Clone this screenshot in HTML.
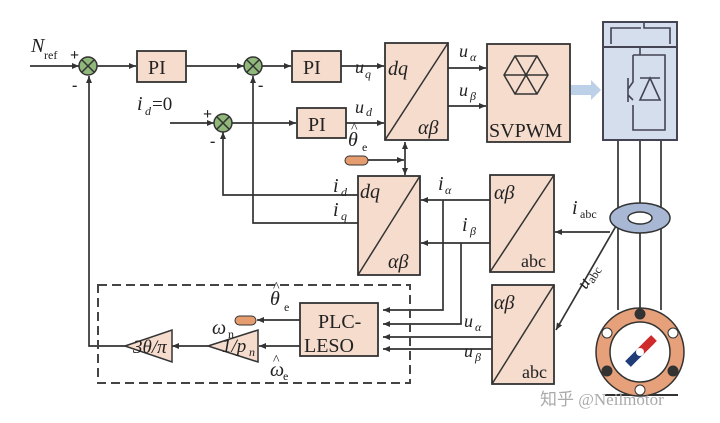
<!DOCTYPE html>
<html><head><meta charset="utf-8"><style>body{margin:0;background:#fff}svg{display:block}text{font-family:"Liberation Serif",serif;fill:#222}</style></head><body>
<svg width="720" height="423" viewBox="0 0 720 423" xmlns="http://www.w3.org/2000/svg">
<defs><marker id="a" markerWidth="8" markerHeight="8" refX="7" refY="4" orient="auto" markerUnits="userSpaceOnUse"><path d="M0,1 L7,4 L0,7z" fill="#333"/></marker></defs>
<g stroke="#333" stroke-width="1.7" fill="none">
<line x1="30" y1="66" x2="79" y2="66" marker-end="url(#a)"/>
<line x1="97" y1="66" x2="136" y2="66" marker-end="url(#a)"/>
<line x1="186" y1="66" x2="244" y2="66" marker-end="url(#a)"/>
<line x1="262" y1="66" x2="291" y2="66" marker-end="url(#a)"/>
<line x1="341" y1="66" x2="384" y2="66" marker-end="url(#a)"/>
<line x1="170" y1="123" x2="214" y2="123" marker-end="url(#a)"/>
<line x1="232" y1="123" x2="296" y2="123" marker-end="url(#a)"/>
<line x1="346" y1="123" x2="384" y2="123" marker-end="url(#a)"/>
<line x1="448" y1="68" x2="486" y2="68" marker-end="url(#a)"/>
<line x1="448" y1="106" x2="486" y2="106" marker-end="url(#a)"/>
<polyline points="125,346 89,346 89,76" marker-end="url(#a)"/>
<polyline points="358,195 223,195 223,132" marker-end="url(#a)"/>
<polyline points="358,223 253,223 253,76" marker-end="url(#a)"/>
<line x1="368" y1="160" x2="404" y2="160" marker-end="url(#a)"/>
<line x1="405" y1="150" x2="405" y2="168"/>
<line x1="405" y1="150" x2="405" y2="142" marker-end="url(#a)"/>
<line x1="405" y1="168" x2="405" y2="175" marker-end="url(#a)"/>
<line x1="490" y1="200" x2="421" y2="200" marker-end="url(#a)"/>
<line x1="490" y1="243" x2="421" y2="243" marker-end="url(#a)"/>
<polyline points="443,200 443,310 383,310" marker-end="url(#a)"/>
<polyline points="461,243 461,324 383,324" marker-end="url(#a)"/>
<line x1="492" y1="337" x2="383" y2="337" marker-end="url(#a)"/>
<line x1="492" y1="349" x2="383" y2="349" marker-end="url(#a)"/>
<line x1="300" y1="320" x2="257" y2="320" marker-end="url(#a)"/>
<line x1="300" y1="346" x2="259" y2="346" marker-end="url(#a)"/>
<line x1="208" y1="346" x2="172" y2="346" marker-end="url(#a)"/>
<line x1="610" y1="232" x2="555" y2="232" marker-end="url(#a)"/>
<line x1="616" y1="226" x2="556" y2="330" marker-end="url(#a)"/>
<line x1="618" y1="140" x2="618" y2="310"/><line x1="640" y1="140" x2="640" y2="310"/><line x1="661" y1="140" x2="661" y2="310"/>
</g>
<g fill="#8fb87a" stroke="#333" stroke-width="1.5">
<circle cx="88" cy="66" r="9"/><circle cx="253" cy="66" r="9"/><circle cx="223" cy="123" r="9"/></g>
<g stroke="#333" stroke-width="1.5">
<path d="M82,60 l12,12 M94,60 l-12,12 M247,60 l12,12 M259,60 l-12,12 M217,117 l12,12 M229,117 l-12,12"/></g>
<g fill="#f6dccd" stroke="#333" stroke-width="1.8">
<rect x="137" y="51" width="49" height="31"/><rect x="292" y="51" width="49" height="31"/><rect x="297" y="108" width="49" height="30"/>
<rect x="385" y="43" width="63" height="97"/><rect x="487" y="44" width="83" height="98"/>
<rect x="358" y="176" width="62" height="99"/><rect x="490" y="175" width="64" height="97"/><rect x="492" y="285" width="62" height="99"/>
<rect x="300" y="303" width="78" height="53"/>
</g>
<g stroke="#333" stroke-width="1.5"><line x1="385" y1="140" x2="448" y2="43"/><line x1="358" y1="275" x2="420" y2="176"/><line x1="490" y1="272" x2="554" y2="175"/><line x1="492" y1="384" x2="554" y2="285"/></g>
<g stroke="#333" stroke-width="1.5" fill="none"><path d="M515,56 L537,56 L548,75 L537,94 L515,94 L504,75Z M515,56 L537,94 M537,56 L515,94 M504,75 L548,75"/></g>
<rect x="345" y="156" width="23" height="9" rx="4.5" fill="#e59c6e" stroke="#333"/>
<rect x="235" y="316" width="21" height="9" rx="4.5" fill="#e59c6e" stroke="#333"/>
<g fill="#f6dccd" stroke="#333" stroke-width="1.5"><path d="M208,346 L258,330 L258,362Z"/><path d="M125,346 L172,330 L172,362Z"/></g>
<rect x="98" y="285" width="312" height="98" fill="none" stroke="#444" stroke-width="2" stroke-dasharray="9,5"/>
<rect x="603" y="22" width="74" height="118" fill="#d5deec" stroke="#445" stroke-width="2"/>
<line x1="603" y1="47" x2="677" y2="47" stroke="#445" stroke-width="2"/>
<g stroke="#445" stroke-width="1.6" fill="none"><path d="M611,44 V28 H641 M644,22 V28 H670 V44 M640,47 V55 M633,55 H665 V130 H633 V105 M628,78 V102 M633,55 V82 l-5,7 M628,95 l5,5 M650,78 L660,100 H640 Z M640,78 H660"/></g>
<rect x="571" y="85" width="20" height="10" fill="#bcd0e8"/><path d="M591,80 L601,90 L591,100Z" fill="#bcd0e8"/>
<ellipse cx="640" cy="218" rx="30" ry="15" fill="#a8b8d4" stroke="#333" stroke-width="1.5"/>
<ellipse cx="640" cy="218" rx="12" ry="6" fill="#fff" stroke="#333" stroke-width="1.5"/>
<line x1="605" y1="395" x2="678" y2="395" stroke="#333" stroke-width="2"/>
<circle cx="640" cy="352" r="44" fill="#e6a07a" stroke="#333" stroke-width="1.5"/>
<circle cx="640" cy="352" r="30" fill="#fff" stroke="#333" stroke-width="1.5"/>
<g fill="#fff" stroke="#333"><circle cx="640" cy="314" r="5" fill="#333"/><circle cx="640" cy="390" r="5"/><circle cx="607" cy="333" r="5"/><circle cx="673" cy="333" r="5"/><circle cx="607" cy="371" r="5" fill="#333"/><circle cx="673" cy="371" r="5" fill="#333"/></g>
<path d="M628,364 L652,340" stroke="#1f3b78" stroke-width="8"/><path d="M641,351 L654,338" stroke="#d02a2a" stroke-width="8"/><circle cx="640" cy="352" r="4" fill="#fff"/>
<g font-size="20">
<text x="148" y="74">PI</text><text x="303" y="74">PI</text><text x="308" y="131">PI</text>
<text x="489" y="137" font-size="20">SVPWM</text>
<text x="318" y="328" font-size="20">PLC-</text><text x="304" y="352" font-size="20">LESO</text>
</g>
<g font-style="italic" font-size="20">
<text x="31" y="52">N</text><text x="388" y="75">dq</text><text x="418" y="134">αβ</text>
<text x="360" y="198">dq</text><text x="388" y="268">αβ</text>
<text x="494" y="199">αβ</text><text x="494" y="309">αβ</text>
<text x="355" y="73" font-size="18">u</text><text x="355" y="113" font-size="18">u</text>
<text x="459" y="57" font-size="18">u</text><text x="459" y="96" font-size="18">u</text>
<text x="137" y="110">i</text><text x="333" y="192">i</text><text x="333" y="216">i</text>
<text x="438" y="190">i</text><text x="462" y="231">i</text><text x="572" y="214">i</text>
<text x="464" y="327" font-size="18">u</text><text x="464" y="357" font-size="18">u</text>
<text x="348" y="146">θ</text><text x="270" y="305">θ</text>
<text x="212" y="334">ω</text><text x="270" y="376">ω</text>
<text x="222" y="352" font-size="19">1/p</text><text x="133" y="353" font-size="19">3θ/π</text>
</g>
<g font-size="14"><text x="351" y="132">^</text><text x="273" y="291">^</text><text x="273" y="364">^</text></g>
<g font-size="12">
<text x="44" y="59">ref</text><text x="522" y="378" font-size="18">abc</text><text x="521" y="267" font-size="18">abc</text>
<text x="365" y="78" font-style="italic">q</text><text x="366" y="116" font-style="italic">d</text>
<text x="470" y="61" font-style="italic">α</text><text x="470" y="100" font-style="italic">β</text>
<text x="145" y="115" font-style="italic">d</text><text x="152" y="110" font-size="19">=0</text>
<text x="341" y="196" font-style="italic">d</text><text x="341" y="220" font-style="italic">q</text>
<text x="445" y="194" font-style="italic">α</text><text x="470" y="235" font-style="italic">β</text>
<text x="580" y="218">abc</text><text x="475" y="331" font-style="italic">α</text><text x="475" y="361" font-style="italic">β</text>
<text x="362" y="151">e</text><text x="284" y="311">e</text><text x="283" y="380">e</text><text x="228" y="338">n</text><text x="249" y="356" font-style="italic">n</text>
</g>
<text x="586" y="290" font-size="18" font-style="italic" transform="rotate(-58 586 290)">u<tspan font-size="12" font-style="normal" dy="3">abc</tspan></text>
<g font-size="16" font-weight="bold"><text x="70" y="60">+</text><text x="72" y="90">-</text><text x="258" y="90">-</text><text x="203" y="119">+</text><text x="210" y="146">-</text></g>
<text x="540" y="405" font-size="17" style="fill:#aaa" font-family="Liberation Sans,Noto Sans CJK SC,sans-serif">知乎 @Neilmotor</text>
</svg>
</body></html>
